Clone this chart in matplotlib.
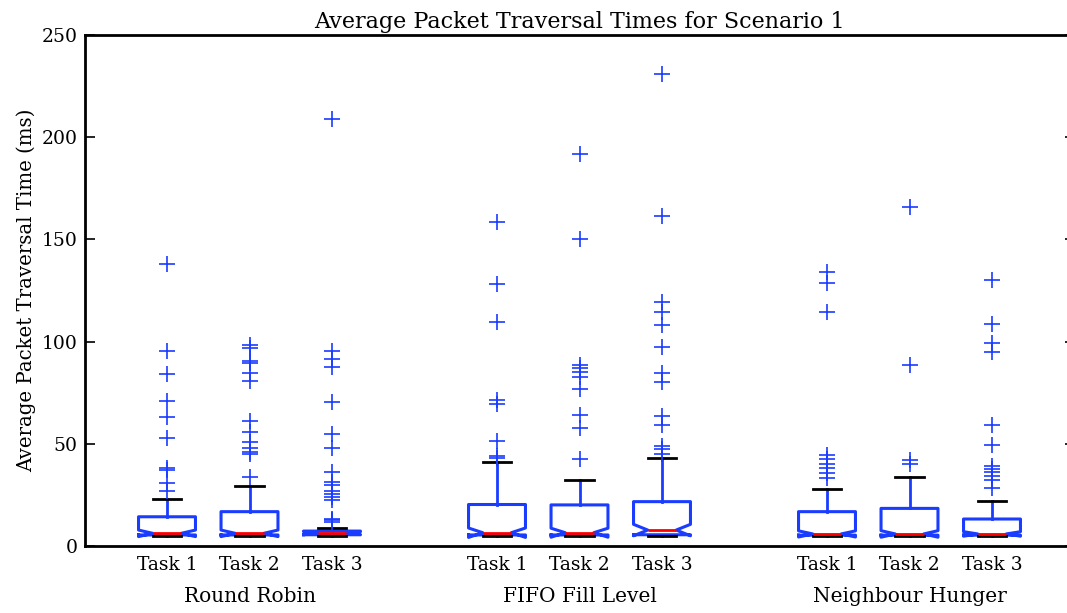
import matplotlib
matplotlib.use("Agg")
import matplotlib.pyplot as plt
import matplotlib.transforms as mtransforms

# box statistics (ms)
groups = ["Round Robin", "FIFO Fill Level", "Neighbour Hunger"]
tasks = ["Task 1", "Task 2", "Task 3"]
positions = [1, 2, 3, 5, 6, 7, 9, 10, 11]

medians = [6.2, 6.2, 6.3, 6.5, 6.5, 7.8, 5.9, 5.9, 5.9]
q1s = [5.4, 5.4, 5.5, 5.4, 5.4, 5.5, 5.3, 5.3, 5.3]
q3s = [14.3, 16.8, 7.3, 20.3, 20.1, 21.7, 16.8, 18.4, 13.2]
whislo = [5.0, 5.0, 4.9, 5.0, 5.0, 5.0, 5.0, 5.0, 5.0]
whishi = [23.1, 29.3, 9.0, 40.9, 32.3, 42.9, 27.7, 33.6, 22.0]
cilo = [4.6, 4.6, 5.6, 4.2, 4.3, 5.0, 4.4, 4.3, 4.8]
cihi = [7.8, 7.8, 7.0, 8.8, 8.7, 10.6, 7.4, 7.5, 7.0]

fliers = [
    [138, 95.5, 84, 71, 63, 53, 38, 37, 30.7, 27],
    [98.5, 97, 90.5, 89.5, 84.5, 80.7, 61.3, 56, 51, 48, 46, 45, 33.6],
    [209, 95.5, 91.5, 87.5, 70.6, 55, 47.8, 36.4, 31.2, 29.8, 27.1,
     25.3, 23.8, 22.5, 13.1, 12.5, 11.9],
    [158.5, 128, 109.5, 71.5, 69.5, 51.6, 44.2, 43.2],
    [191.6, 150, 88.6, 86.9, 85, 82.8, 76.8, 64.1, 57.9, 42.8],
    [231, 161.6, 119.5, 114.3, 108.1, 97.5, 84.8, 80.1, 63.6, 59.2,
     48.9, 47.3, 45],
    [134.2, 128.5, 114.6, 44.5, 42.4, 40.1, 38, 35.6, 33.1],
    [165.7, 88.6, 42, 40.2],
    [130.1, 108.5, 99.2, 95.1, 59.2, 49.4, 39.3, 37.7, 36.1, 34.4, 32.3, 28.2],
]

BLUE = "#1a3cff"

plt.rcParams["font.family"] = "DejaVu Serif"

fig = plt.figure(figsize=(10.67, 6.13), dpi=100)
ax = fig.add_axes([84.5 / 1067, 67 / 613, 990 / 1067, 511 / 613])

stats = []
for i in range(len(positions)):
    stats.append(dict(med=medians[i], q1=q1s[i], q3=q3s[i],
                      whislo=whislo[i], whishi=whishi[i],
                      cilo=cilo[i], cihi=cihi[i], fliers=fliers[i]))

ax.bxp(stats, positions=positions, widths=0.69, shownotches=True,
       boxprops=dict(color=BLUE, linewidth=2.2),
       whiskerprops=dict(color=BLUE, linewidth=2.0, linestyle="-"),
       capprops=dict(color="black", linewidth=2.0),
       medianprops=dict(color="red", linewidth=2.0),
       flierprops=dict(marker="+", markeredgecolor=BLUE, markersize=11.5,
                       markeredgewidth=1.2, linestyle="none"))

ax.set_xlim(0, 12)
ax.set_ylim(0, 250)
ax.set_yticks([0, 50, 100, 150, 200, 250])
ax.set_xticks(positions)
ax.set_xticklabels(tasks * 3)
ax.tick_params(axis="x", length=0, labelsize=13.5, pad=7)
ax.tick_params(axis="y", direction="in", length=7, width=1.2,
               labelsize=13.5, right=True, pad=5)
for sp in ax.spines.values():
    sp.set_linewidth(2.0)

trans = mtransforms.blended_transform_factory(ax.transData, fig.transFigure)
for g, name in enumerate(groups):
    ax.text(positions[3 * g + 1], 16 / 613, name, transform=trans,
            ha="center", va="center", fontsize=14.5)

ax.set_title("Average Packet Traversal Times for Scenario 1", fontsize=16,
             pad=5)
ax.set_ylabel("Average Packet Traversal Time (ms)", fontsize=14.2,
              labelpad=4)

fig.savefig("out.png", dpi=100)
